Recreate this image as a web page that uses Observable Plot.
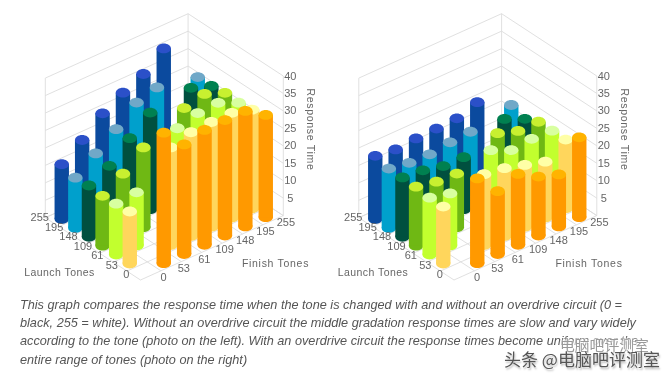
<!DOCTYPE html>
<html><head><meta charset="utf-8">
<script src="https://cdn.jsdelivr.net/npm/d3@7"></script>
<script src="https://cdn.jsdelivr.net/npm/@observablehq/plot@0.6"></script>
<style>
html,body{margin:0;padding:0;background:#fff;width:672px;height:378px;overflow:hidden;position:relative}
#chart svg{display:block;filter:blur(.5px)}
#cap{position:absolute;left:20px;top:295.6px;width:645px;font:italic 12.7px/18.4px "Liberation Sans",Arial,sans-serif;color:#555;filter:blur(.4px);white-space:nowrap}
.wm{position:absolute;font-family:"Noto Sans CJK SC",sans-serif;white-space:nowrap;line-height:1}
#wm1{left:560px;top:338px;font-size:14.8px;color:#999;text-shadow:0 0 3px #fff,0 0 3px #fff,0 0 3px #fff;filter:blur(.5px)}
#wm2{left:504px;top:350px;font-size:17px;color:#555;text-shadow:1px 2px 2px #bbb,0 0 2px #fff;filter:blur(.4px)}
</style></head><body>
<div id="chart"></div>
<div id="cap">This graph compares the response time when the tone is changed with and without an overdrive circuit (0 =<br>black, 255 = white). Without an overdrive circuit the middle gradation response times are slow and vary widely<br>according to the tone (photo on the left). With an overdrive circuit the response times become uniform over the<br>entire range of tones (photo on the right)</div>
<div class="wm" id="wm1">电脑吧评测室</div>
<div class="wm" id="wm2">头条 @电脑吧评测室</div>
<script>
const launchTones = [0, 53, 61, 109, 148, 195, 255];
const finishTones = [0, 53, 61, 109, 148, 195, 255];
const timeTicks = [5, 10, 15, 20, 25, 30, 35, 40];
const rowBody = ["#ff9900", "#ffd65c", "#c2ff2e", "#6fb814", "#00503f", "#00a0cc", "#0b4a9e"];
const rowTop  = ["#ffb300", "#ffffa6", "#d8ffa0", "#c8f030", "#008050", "#70a8c8", "#2b50c8"];
// rows by launch tone, columns by finish tone; no bar where the tone does not change
const withoutOverdrive = [
  [null, 37.4, 31.4, 32.9, 33.1, 33.1, 29.3],
  [14.9, null, 28.0, 29.7, 30.0, 30.0, 28.3],
  [14.6, 15.2, null, 28.3, 30.0, 30.3, 27.7],
  [14.3, 18.0, 22.9, null, 28.9, 30.3, 28.0],
  [14.7, 17.7, 23.0, 27.7, null, 29.5, 27.4],
  [14.4, 18.7, 23.0, 28.0, 29.7, null, 27.4],
  [15.7, 20.0, 25.0, 28.3, 31.0, 35.7, null]
];
const withOverdrive = [
  [null, 24.3, 18.0, 20.3, 16.9, 14.9, 22.9],
  [16.3, null, 20.3, 19.4, 17.7, 16.0, 19.7],
  [16.3, 14.9, null, 22.0, 19.4, 20.0, 19.7],
  [16.9, 15.7, 15.4, null, 21.7, 19.7, 19.7],
  [17.0, 16.4, 15.0, 14.9, null, 20.6, 18.0],
  [17.0, 16.0, 15.8, 16.6, 17.0, null, 19.4],
  [18.1, 17.3, 17.8, 18.0, 18.3, 20.3, null]
];

// oblique projection of (finish, launch, time) onto the page
const project = (u, v, z, panel) => [
  140 + 20.4 * u - 13.6 * v + panel * 313.5,
  279.5 - 9.2 * u - 8.9 * v - 3.49 * z
];
const inset = 0.42;
const ellipse = {draw(c, size) {
  const rx = Math.sqrt(size / Math.PI), ry = rx * 0.68, k = 0.5523;
  c.moveTo(rx, 0);
  c.bezierCurveTo(rx, k * ry, k * rx, ry, 0, ry);
  c.bezierCurveTo(-k * rx, ry, -rx, k * ry, -rx, 0);
  c.bezierCurveTo(-rx, -k * ry, -k * rx, -ry, 0, -ry);
  c.bezierCurveTo(k * rx, -ry, rx, -k * ry, rx, 0);
  c.closePath();
}};

const gridSegs = [], labels = [], bars = [];
const seg = (a, b) => gridSegs.push({x1: a[0], y1: a[1], x2: b[0], y2: b[1]});
[withoutOverdrive, withOverdrive].forEach((table, p) => {
  for (let k = 0; k <= 7; k++) {
    seg(project(k, 0, 0, p), project(k, 7, 0, p));
    seg(project(0, k, 0, p), project(7, k, 0, p));
  }
  [0, ...timeTicks].forEach(z => {
    seg(project(0, 7, z, p), project(7, 7, z, p));
    seg(project(7, 7, z, p), project(7, 0, z, p));
  });
  seg(project(0, 7, 0, p), project(0, 7, 40, p));
  seg(project(7, 7, 0, p), project(7, 7, 40, p));
  seg(project(7, 0, 0, p), project(7, 0, 40, p));

  finishTones.forEach((t, k) => {
    const [x, y] = project(k + inset, 0, 0, p);
    labels.push({x: x + 14.4, y: y + 1.4, text: t, anchor: "start"});
  });
  launchTones.forEach((t, k) => {
    const [x, y] = project(0, k * 1.06 + inset, 0, p);
    labels.push({x: x - 8.6, y: y - 1.8, text: t, anchor: "end"});
  });
  timeTicks.forEach(z => {
    const [x, y] = project(7, 0, z, p);
    labels.push({x: x + 7, y, text: z, anchor: "start"});
  });
  const o = p * 313.5;
  labels.push({x: 275 + o, y: 263, text: "Finish Tones", anchor: "middle", title: true});
  labels.push({x: 59 + o, y: 272, text: "Launch Tones", anchor: "middle", title: true});
  labels.push({x: 310 + o, y: 129, text: "Response Time", anchor: "middle", title: true, rotate: 90});

  table.forEach((row, i) => row.forEach((value, j) => {
    if (value === null) return;
    const [x, y0] = project(j + inset, i + inset, 0, p);
    const [, y1] = project(j + inset, i + inset, value, p);
    bars.push({x, y0, y1, body: rowBody[i], top: rowTop[i], depth: i + j});
  }));
});
bars.sort((a, b) => b.depth - a.depth);

const barMarks = bars.flatMap(b => [
  Plot.dot([b], {x: "x", y: "y0", r: 7.2, symbol: ellipse, fill: "body", stroke: "none"}),
  Plot.link([b], {x1: "x", x2: "x", y1: "y0", y2: "y1", stroke: "body", strokeWidth: 14.4, strokeLinecap: "butt"}),
  Plot.dot([b], {x: "x", y: "y1", r: 7.2, symbol: ellipse, fill: "top", stroke: "none"})
]);

const textStyle = {x: "x", y: "y", text: "text", textAnchor: "anchor", fill: "#666",
  fontFamily: "Liberation Sans, Arial, sans-serif", lineAnchor: "middle"};

document.getElementById("chart").append(Plot.plot({
  width: 672, height: 290, margin: 0,
  style: {background: "transparent"},
  x: {type: "identity", axis: null},
  y: {type: "identity", axis: null},
  color: {type: "identity"},
  marks: [
    Plot.link(gridSegs, {x1: "x1", y1: "y1", x2: "x2", y2: "y2", stroke: "#dcdcdc", strokeWidth: 0.9}),
    ...barMarks,
    Plot.text(labels.filter(d => !d.title), {...textStyle, fontSize: 11}),
    Plot.text(labels.filter(d => d.title && !d.rotate), {...textStyle, fontSize: 10.5, fontWeight: 500}),
    Plot.text(labels.filter(d => d.rotate), {...textStyle, rotate: 90, fontSize: 10.5, fontWeight: 500})
  ]
}));
document.querySelectorAll("#chart text").forEach(t => {
  if (/Finish|Response/.test(t.textContent)) t.setAttribute("letter-spacing", "0.7");
  if (/Launch/.test(t.textContent)) t.setAttribute("letter-spacing", "0.45");
});
</script>
</body></html>
